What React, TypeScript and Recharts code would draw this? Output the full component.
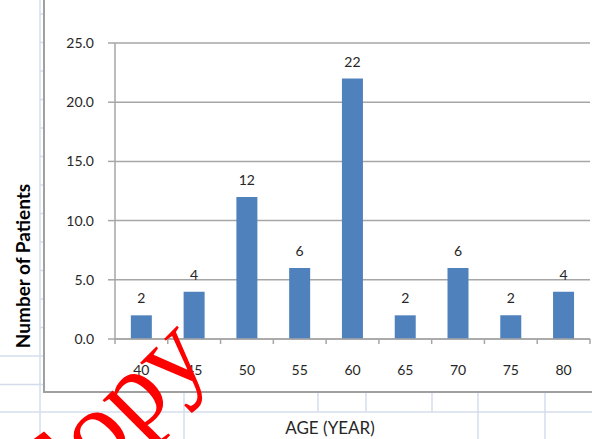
import React from 'react'
import { BarChart, Bar, XAxis, YAxis, CartesianGrid, LabelList } from 'recharts'

const AGES = ['40', '45', '50', '55', '60', '65', '70', '75', '80']
const PATIENTS = [2, 4, 12, 6, 22, 2, 6, 2, 4]
const Y_TICKS = [0, 5, 10, 15, 20, 25]

// spreadsheet lines behind the chart object
const ROW_HIDDEN = [14, 42.5, 71, 99.5, 128, 156.5, 185, 213.5, 242, 270.5, 299, 327.5]
const ROW_FULL = [356, 384.5, 412]
const COL_FULL = [40, 184, 478, 545]
const COL_SHORT = [318, 366, 432]

const W = 592
const H = 439
const PLOT_LEFT = 115
const PLOT_RIGHT = 590
const BAND = (PLOT_RIGHT - PLOT_LEFT) / AGES.length

const dados = AGES.map((age, i) => ({ age, patients: PATIENTS[i] }))

const FONT = 'Lato, "Open Sans", sans-serif'
const TXT = '#262626'
const LINHA = '#a6a6a6'
const CELULA = '#d4dcec'

function AgeTick(props: any) {
  const { x, y, payload, index } = props
  return (
    <g>
      <line x1={x - BAND / 2} x2={x - BAND / 2} y1={y} y2={y + 5} stroke={LINHA} strokeWidth={1.5} />
      {index === AGES.length - 1 && (
        <line x1={x + BAND / 2} x2={x + BAND / 2} y1={y} y2={y + 5} stroke={LINHA} strokeWidth={1.5} />
      )}
      <text x={x} y={y + 36} textAnchor="middle" fontFamily={FONT} fontSize={14} fill={TXT}>
        {payload.value}
      </text>
    </g>
  )
}

export default function App() {
  return (
    <div style={{ position: 'absolute', left: 0, top: 0, width: W, height: H, overflow: 'hidden', background: '#fff' }}>
      <svg width={W} height={H} style={{ position: 'absolute', left: 0, top: 0 }}>
        {ROW_HIDDEN.map(y => <line key={'h' + y} x1={40} x2={W} y1={y} y2={y} stroke={CELULA} strokeWidth={1.5} />)}
        {ROW_FULL.map(y => <line key={'r' + y} x1={0} x2={W} y1={y} y2={y} stroke={CELULA} strokeWidth={1.5} />)}
        {COL_FULL.map(x => <line key={'c' + x} x1={x} x2={x} y1={0} y2={H} stroke={CELULA} strokeWidth={1.5} />)}
        {COL_SHORT.map(x => <line key={'s' + x} x1={x} x2={x} y1={0} y2={412} stroke={CELULA} strokeWidth={1.5} />)}
        <rect x={44} y={-10} width={W} height={402} fill="#fff" stroke="#a0a0a0" strokeWidth={2} />
      </svg>

      <div style={{ position: 'absolute', left: 0, top: 0 }}>
        <BarChart width={W} height={H} data={dados} margin={{ top: 43, right: W - PLOT_RIGHT, bottom: 70, left: 0 }} barCategoryGap="30%">
          <CartesianGrid vertical={false} stroke={LINHA} strokeWidth={1.5} />
          <XAxis
            dataKey="age"
            height={30}
            stroke={LINHA}
            strokeWidth={1.5}
            tickLine={false}
            tickSize={0}
            tickMargin={0}
            interval={0}
            tick={<AgeTick />}
          />
          <YAxis
            width={PLOT_LEFT}
            domain={[0, 25]}
            ticks={Y_TICKS}
            tickFormatter={(v: number) => v.toFixed(1)}
            stroke={LINHA}
            strokeWidth={1.5}
            tickSize={7}
            tickMargin={14}
            tick={{ fontFamily: FONT, fontSize: 14, fill: TXT }}
          />
          <Bar dataKey="patients" fill="#4f81bd" isAnimationActive={false}>
            <LabelList dataKey="patients" position="top" offset={12} style={{ fontFamily: FONT, fontSize: 14, fill: TXT }} />
          </Bar>
        </BarChart>
      </div>

      <svg width={W} height={H} style={{ position: 'absolute', left: 0, top: 0, pointerEvents: 'none' }}>
        <text x={22} y={266} transform="rotate(-90 22 266)" textAnchor="middle" dominantBaseline="central"
          fontFamily={FONT} fontWeight={700} fontSize={19} fill="#000">
          Number of Patients
        </text>
        <text x={330} y={427} textAnchor="middle" dominantBaseline="central" fontFamily={FONT} fontSize={17} fill={TXT}>
          AGE (YEAR)
        </text>
        <text x={47} y={526} transform="rotate(-45 47 526)" fontFamily='"Liberation Serif", serif' fontSize={108} fill="#ff0000">
          Copy
        </text>
      </svg>
    </div>
  )
}
